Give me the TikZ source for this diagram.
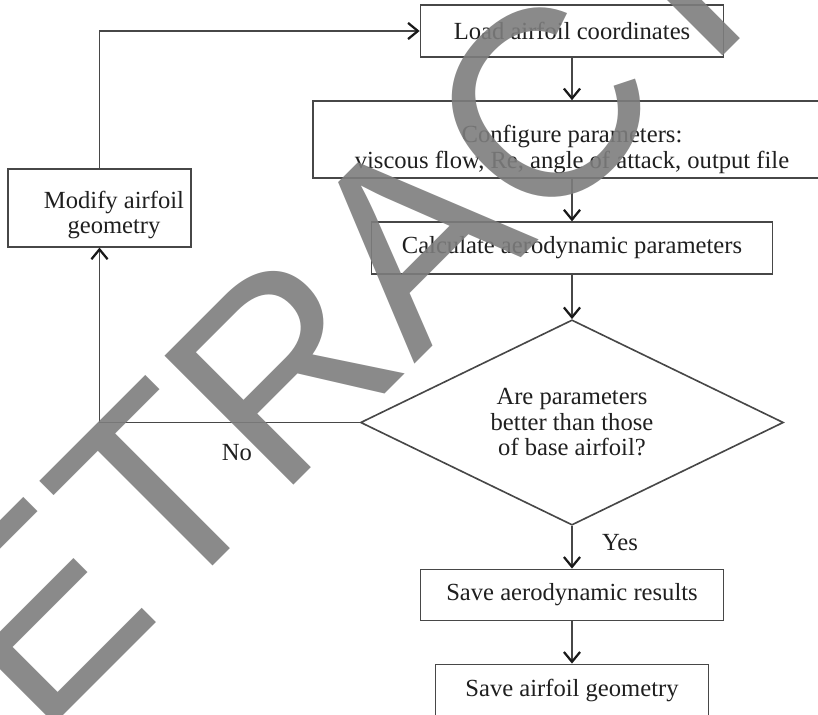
\documentclass[tikz,border=0pt]{standalone}
\usepackage{fontspec}
\setmainfont{Liberation Serif}
\newfontfamily\stampfont{Liberation Sans}
\usetikzlibrary{shapes.geometric,arrows.meta}
\definecolor{stampgray}{RGB}{125,125,125}
\begin{document}
\begin{tikzpicture}[x=0.025cm,y=-0.025cm,
        box/.style={draw=black!72,line width=1.15pt,text=black!88,font=\fontsize{17.5}{18.1}\selectfont,align=center,inner sep=0pt},
        decision/.style={diamond,aspect=2.06,draw=black!72,line width=1.15pt,text=black!88,font=\fontsize{17.5}{18.1}\selectfont,align=center,inner sep=0pt},
        txt/.style={text=black!88,font=\fontsize{17.5}{18.1}\selectfont,align=center},
        arr/.style={draw=black!72,line width=1.15pt,-{Straight Barb[length=7pt,width=11.5pt,line width=1.6pt,color=black!90]}},
        stamp/.style={text=stampgray,text opacity=0.9,font=\stampfont\fontsize{188.5}{190}\selectfont}]
            \clip (0,0) rectangle (818,715);
            \node[box,minimum width=7.575cm,minimum height=1.3cm] (load) at (572,31) {Load airfoil coordinates};
            \node[box,minimum width=12.95cm,minimum height=1.925cm] (config) at (572,139.5) {};
            \node[txt] (configtxt) at (572,149.5) {Configure parameters:\\viscous flow, Re, angle of attack, output file};
            \node[box,minimum width=10.03cm,minimum height=1.29cm] (calc) at (572,248) {Calculate aerodynamic parameters};
            \node[decision,minimum width=10.57cm,minimum height=5.13cm] (decide) at (572,422.5) {Are parameters\\better than those\\of base airfoil?};
            \node[box,minimum width=7.57cm,minimum height=1.28cm] (saveres) at (572,595) {Save aerodynamic results};
            \node[box,minimum width=6.83cm,minimum height=1.28cm] (savegeo) at (572,690) {Save airfoil geometry};
            \node[box,minimum width=4.56cm,minimum height=1.94cm] (modify) at (99.5,208) {};
            \node[txt] (modifytxt) at (114,215) {Modify airfoil\\geometry};
            \node[txt] (no) at (237,453) {No};
            \node[txt] (yes) at (620,543) {Yes};
            \draw[arr] (load) -- (config);
            \draw[arr] (config) -- (calc);
            \draw[arr] (calc) -- (decide);
            \draw[arr] (decide) -- (saveres);
            \draw[arr] (saveres) -- (savegeo);
            \draw[arr] (decide.west) -| (modify.south);
            \draw[arr] (modify.north) |- (load.west);
            \node[stamp,rotate=45,anchor=base] (retracted) at (476.6,302.4) {RETRACTED};
        \end{tikzpicture}
\end{document}
